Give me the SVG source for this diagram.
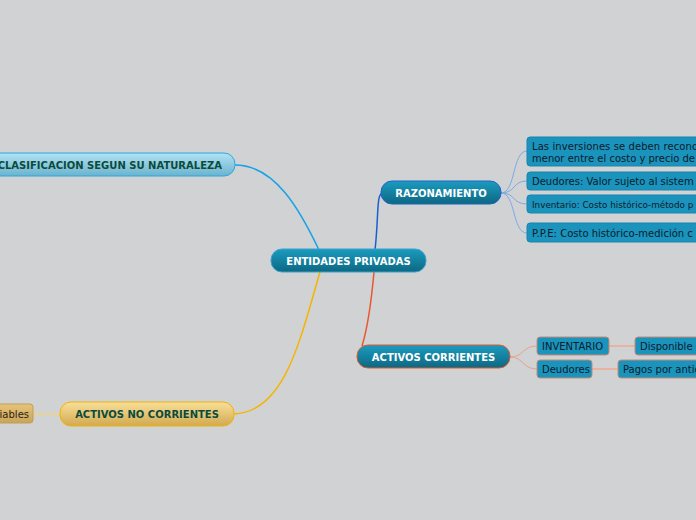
<svg xmlns="http://www.w3.org/2000/svg" width="696" height="520" viewBox="0 0 696 520">
<defs>
<linearGradient id="gTeal" x1="0" y1="0" x2="0" y2="1"><stop offset="0" stop-color="#1b9cc0"/><stop offset="1" stop-color="#0d6781"/></linearGradient>
<linearGradient id="gLight" x1="0" y1="0" x2="0" y2="1"><stop offset="0" stop-color="#b2e2f4"/><stop offset="1" stop-color="#6bb3cc"/></linearGradient>
<linearGradient id="gGold" x1="0" y1="0" x2="0" y2="1"><stop offset="0" stop-color="#f8e09a"/><stop offset="1" stop-color="#d2a950"/></linearGradient>
<linearGradient id="gTan" x1="0" y1="0" x2="0" y2="1"><stop offset="0" stop-color="#e6c47a"/><stop offset="1" stop-color="#c9a45a"/></linearGradient>
<style>
text{font-family:"DejaVu Sans",Verdana,sans-serif;font-size:10px}
.main{fill:#fff;font-weight:bold;text-anchor:middle}
.dk{fill:#0b4b3c;font-weight:bold;text-anchor:middle}
.sub{fill:#0c1c2a}
.bx{fill:#1a93bd;stroke:#1985b0;stroke-width:1}
.bxo{fill:#1a93bd;stroke:#c98a75;stroke-width:1}
.c{fill:none;stroke-width:1.5}
</style>
</defs>
<rect width="696" height="520" fill="#d1d2d4"/>
<g id="connectors">
<path class="c" d="M235,165 C275,165 300,210 319,250" stroke="#18a2e6"/>
<path class="c" d="M375,250 C379,215 376,193 383,193" stroke="#1a5fd0"/>
<path class="c" d="M374,272 C371,305 367,330 362,346" stroke="#e8582c"/>
<path class="c" d="M320,272 C300,340 285,412 234,414" stroke="#f5b400"/>
<path d="M33,414 L60,414" stroke="#f0d27e" stroke-width="1.5" fill="none"/>
<g fill="none" stroke="#7fa9e2" stroke-width="1">
<path d="M501,193 C516,193 512,151 527,151"/>
<path d="M501,193 C516,193 512,181 527,181"/>
<path d="M501,193 C516,193 512,204 527,204"/>
<path d="M501,193 C516,193 512,233 527,233"/>
</g>
<g fill="none" stroke="#e8a28e" stroke-width="1">
<path d="M510,357 C524,357 522,346 537,346"/>
<path d="M510,357 C524,357 522,369 537,369"/>
</g>
<path d="M609,346 L635,346 M592,369 L618,369" stroke="#e9b3a2" stroke-width="2" fill="none"/>
</g>
<g id="n-central">
<rect x="271" y="249" width="155" height="23" rx="11" fill="url(#gTeal)" stroke="#3aa3cc"/>
<text class="main" x="348.5" y="264.5">ENTIDADES PRIVADAS</text>
</g>
<g id="n-clasificacion">
<rect x="-20" y="153" width="255" height="23" rx="11" fill="url(#gLight)" stroke="#2aa8e2"/>
<text class="dk" x="222" y="168.5" style="text-anchor:end">CLASIFICACION SEGUN SU NATURALEZA</text>
</g>
<g id="n-razonamiento">
<rect x="381" y="181" width="120" height="23" rx="11" fill="url(#gTeal)" stroke="#1f62c8"/>
<text class="main" x="441" y="196.5">RAZONAMIENTO</text>
</g>
<g id="n-corrientes">
<rect x="357" y="345" width="153" height="23" rx="11" fill="url(#gTeal)" stroke="#e0582e"/>
<text class="main" x="433.5" y="360.5">ACTIVOS CORRIENTES</text>
</g>
<g id="n-nocorrientes">
<rect x="60" y="402" width="174" height="24" rx="11" fill="url(#gGold)" stroke="#f0b400"/>
<text class="dk" x="147" y="418">ACTIVOS NO CORRIENTES</text>
</g>
<g id="n-iables">
<rect x="-20" y="404" width="53" height="19" rx="3" fill="url(#gTan)" stroke="#c59e50"/>
<text class="sub" x="29" y="417.5" style="text-anchor:end;fill:#2a2410">iables</text>
</g>
<g id="n-r1">
<rect x="527" y="137" width="180" height="29" rx="3" class="bx"/>
<text class="sub" x="532" y="149.5" textLength="166" lengthAdjust="spacing">Las inversiones se deben recono</text>
<text class="sub" x="532" y="161.5">menor entre el costo y precio de</text>
</g>
<g id="n-r2">
<rect x="527" y="172" width="180" height="18" rx="3" class="bx"/>
<text class="sub" x="532" y="185">Deudores: Valor sujeto al sistem</text>
</g>
<g id="n-r3">
<rect x="527" y="195" width="180" height="18" rx="3" class="bx"/>
<text class="sub" x="532" y="207.5" style="font-size:8.8px">Inventario: Costo histórico-método p</text>
</g>
<g id="n-r4">
<rect x="527" y="223" width="180" height="19" rx="3" class="bx"/>
<text class="sub" x="532" y="236.5">P.P.E: Costo histórico-medición c</text>
</g>
<g id="n-inventario">
<rect x="537" y="337" width="72" height="18" rx="3" class="bxo"/>
<text class="sub" x="542" y="350">INVENTARIO</text>
</g>
<g id="n-deudores">
<rect x="537" y="360" width="55" height="18" rx="3" class="bxo"/>
<text class="sub" x="542" y="373">Deudores</text>
</g>
<g id="n-disponible">
<rect x="635" y="337" width="80" height="18" rx="3" class="bxo"/>
<text class="sub" x="640" y="350">Disponible c</text>
</g>
<g id="n-pagos">
<rect x="618" y="360" width="90" height="18" rx="3" class="bxo"/>
<text class="sub" x="623" y="373">Pagos por antic</text>
</g>
</svg>
